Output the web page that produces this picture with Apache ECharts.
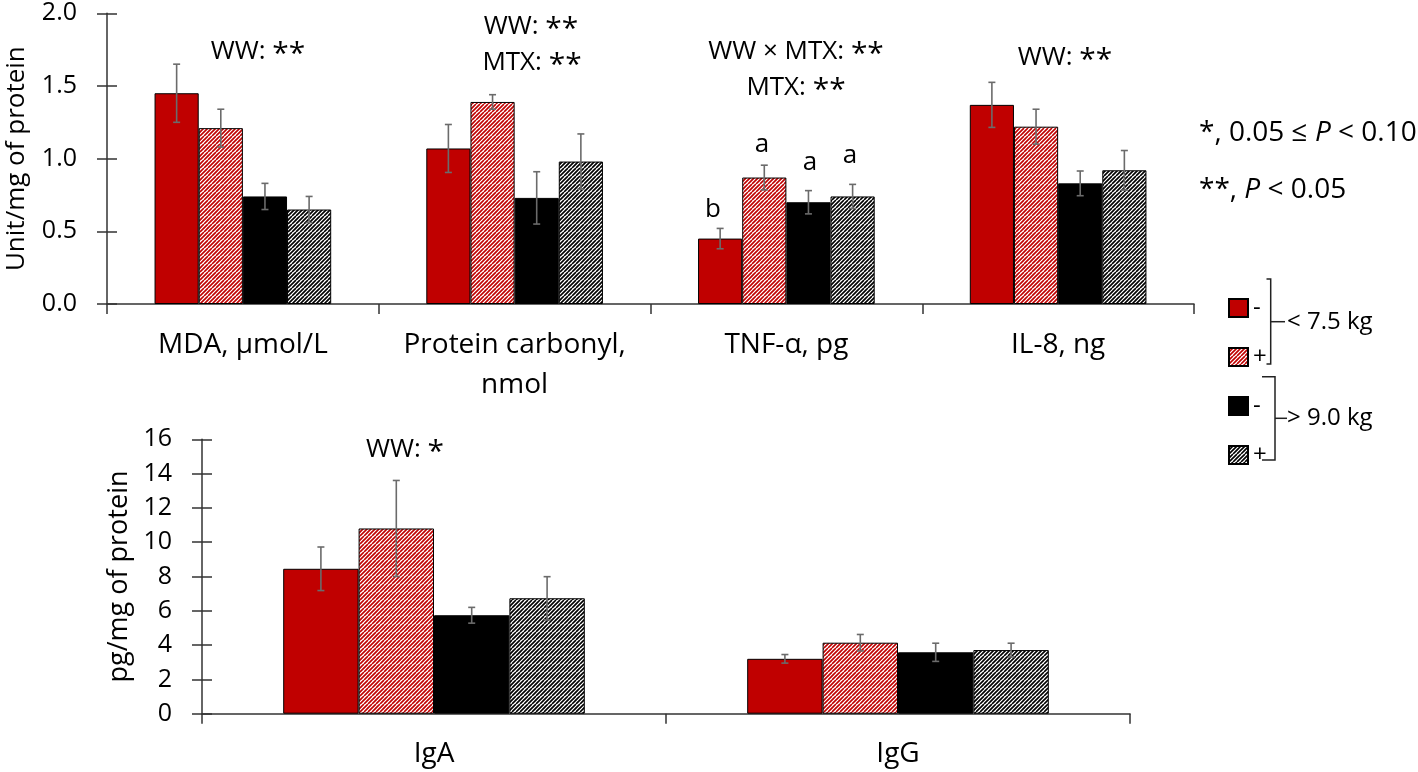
<!DOCTYPE html>
<html>
<head>
<meta charset="utf-8">
<script src="https://cdn.jsdelivr.net/npm/echarts@6/dist/echarts.min.js"></script>
<style>
html,body{margin:0;padding:0;background:#fff;}
#chart{width:1418px;height:772px;}
</style>
</head>
<body>
<div id="chart"></div>
<script>
// ---- data ----
const topCategories = ['MDA, µmol/L', 'Protein carbonyl,\nnmol', 'TNF-α, pg', 'IL-8, ng'];
const topLt75Minus = [1.45, 1.07, 0.45, 1.37];
const topLt75Plus  = [1.21, 1.39, 0.87, 1.22];
const topGt90Minus = [0.74, 0.73, 0.70, 0.83];
const topGt90Plus  = [0.65, 0.98, 0.74, 0.92];
const topLt75MinusSE = [0.20, 0.165, 0.07, 0.155];
const topLt75PlusSE  = [0.13, 0.05, 0.085, 0.12];
const topGt90MinusSE = [0.09, 0.18, 0.08, 0.085];
const topGt90PlusSE  = [0.09, 0.19, 0.083, 0.136];

const botCategories = ['IgA', 'IgG'];
const botLt75Minus = [8.45, 3.20];
const botLt75Plus  = [10.8, 4.14];
const botGt90Minus = [5.74, 3.58];
const botGt90Plus  = [6.73, 3.71];
const botLt75MinusSE = [1.27, 0.25];
const botLt75PlusSE  = [2.80, 0.48];
const botGt90MinusSE = [0.46, 0.53];
const botGt90PlusSE  = [1.26, 0.40];

const topTicks = [0, 0.5, 1.0, 1.5, 2.0];
const botTicks = [0, 2, 4, 6, 8, 10, 12, 14, 16];

const seriesNames = ['< 7.5 kg, -', '< 7.5 kg, +', '> 9.0 kg, -', '> 9.0 kg, +'];

// ---- styles ----
const RED = '#C00000';
const FONT = 'Open Sans';
function hatch(color) {
  const s = 8;
  const c = document.createElement('canvas');
  c.width = s; c.height = s;
  const ctx = c.getContext('2d');
  ctx.fillStyle = '#fff';
  ctx.fillRect(0, 0, s, s);
  ctx.strokeStyle = color;
  ctx.lineWidth = 1.6;
  ctx.beginPath();
  for (let k = -s; k <= 2 * s; k += 4) {
    ctx.moveTo(k, s);
    ctx.lineTo(k + s, 0);
  }
  ctx.stroke();
  return { image: c, repeat: 'repeat' };
}
const fills = [RED, hatch(RED), '#000', hatch('#000')];

const GAP = 0.35;
function errRender(idx) {
  return function (params, api) {
    const ci = api.value(0);
    const lo = api.value(1), hi = api.value(2);
    const band = api.size([1, 0])[0];
    const bw = band * (1 - GAP) / 4;
    const off = (idx - 1.5) * bw;
    const pHi = api.coord([ci, hi]);
    const pLo = api.coord([ci, lo]);
    const x = pHi[0] + off;
    const st = { stroke: '#6b6b6b', lineWidth: 1.6 };
    const cap = 3.5;
    return {
      type: 'group',
      children: [
        { type: 'line', shape: { x1: x, y1: pLo[1], x2: x, y2: pHi[1] }, style: st },
        { type: 'line', shape: { x1: x - cap, y1: pHi[1], x2: x + cap, y2: pHi[1] }, style: st },
        { type: 'line', shape: { x1: x - cap, y1: pLo[1], x2: x + cap, y2: pLo[1] }, style: st }
      ]
    };
  };
}

const topVals = [topLt75Minus, topLt75Plus, topGt90Minus, topGt90Plus];
const topSE = [topLt75MinusSE, topLt75PlusSE, topGt90MinusSE, topGt90PlusSE];
const botVals = [botLt75Minus, botLt75Plus, botGt90Minus, botGt90Plus];
const botSE = [botLt75MinusSE, botLt75PlusSE, botGt90MinusSE, botGt90PlusSE];

const series = [];
function addGroup(vals, ses, xi, yi) {
  vals.forEach((arr, i) => {
    series.push({
      type: 'bar', name: seriesNames[i], xAxisIndex: xi, yAxisIndex: yi,
      data: arr, barGap: '0%', barCategoryGap: (GAP * 100) + '%',
      itemStyle: { color: fills[i], borderColor: '#000', borderWidth: 1 },
      emphasis: { disabled: true }, z: 2
    });
  });
  vals.forEach((arr, i) => {
    series.push({
      type: 'custom', xAxisIndex: xi, yAxisIndex: yi, z: 5,
      renderItem: errRender(i),
      encode: { x: 0, y: [1, 2] },
      data: arr.map((v, k) => [k, v - ses[i][k], v + ses[i][k]]),
      silent: true
    });
  });
}
addGroup(topVals, topSE, 0, 0);
addGroup(botVals, botSE, 1, 2);

const axisCol = '#333';

function yAxes(gridIndex, max, interval, name, nameGap, nameSize, fmt) {
  return [
    {
      type: 'value', gridIndex, min: 0, max, interval, position: 'left',
      name, nameLocation: 'middle', nameGap, nameRotate: 90,
      nameTextStyle: { color: '#000', fontFamily: FONT, fontSize: nameSize },
      axisLine: { show: true, lineStyle: { color: axisCol, width: 1.5 } },
      axisTick: { show: true, length: 10, lineStyle: { color: axisCol, width: 1.5 } },
      axisLabel: { margin: 30, formatter: fmt, color: '#000', fontFamily: FONT, fontSize: 25 },
      splitLine: { show: false }
    },
    {
      type: 'value', gridIndex, min: 0, max, interval, position: 'left', offset: 0,
      axisLine: { show: false },
      axisTick: { show: true, inside: true, length: 10, lineStyle: { color: axisCol, width: 1.5 } },
      axisLabel: { show: false },
      splitLine: { show: false }
    }
  ];
}

function txt(text, x, y, size, align) {
  return {
    type: 'text', x, y, silent: true,
    style: {
      text, fill: '#000', font: (size || 26) + 'px "' + FONT + '"',
      textAlign: align || 'center', textVerticalAlign: 'middle',
      rich: {
        s: { fontSize: (size || 26) * 1.15, fontFamily: FONT, fill: '#000', padding: [4, 0, 0, 0] },
        i: { fontStyle: 'italic', fontFamily: FONT, fontSize: size || 26, fill: '#000' }
      }
    }
  };
}
const lineSt = { stroke: '#222', lineWidth: 1.5, fill: null };

const option = {
  backgroundColor: '#fff',
  animation: false,
  grid: [
    { left: 107, top: 13.3, width: 1087, height: 290.7, outerBoundsMode: 'none' },
    { left: 202, top: 439.3, width: 928, height: 274.4, outerBoundsMode: 'none' }
  ],
  legend: {
    orient: 'vertical', left: 1223, top: 291,
    itemWidth: 19, itemHeight: 18, itemGap: 25, icon: 'rect',
    data: seriesNames,
    formatter: n => n.slice(-1),
    textStyle: { color: '#000', fontFamily: FONT, fontSize: 24, lineHeight: 24, padding: [0, 0, 0, 0] },
    selectedMode: false
  },
  xAxis: [
    {
      type: 'category', gridIndex: 0, data: topCategories,
      axisLine: { lineStyle: { color: axisCol, width: 1.5 } },
      axisTick: { show: true, length: 10, lineStyle: { color: axisCol, width: 1.5 } },
      axisLabel: { interval: 0, margin: 21, lineHeight: 40, fontSize: 28, color: '#000', fontFamily: FONT }
    },
    {
      type: 'category', gridIndex: 1, data: botCategories,
      axisLine: { lineStyle: { color: axisCol, width: 1.5 } },
      axisTick: { show: true, length: 10, lineStyle: { color: axisCol, width: 1.5 } },
      axisLabel: { interval: 0, margin: 20, lineHeight: 40, fontSize: 28, color: '#000', fontFamily: FONT }
    }
  ],
  yAxis: [].concat(
    yAxes(0, topTicks[topTicks.length - 1], topTicks[1] - topTicks[0], 'Unit/mg of protein', 77, 26, v => v.toFixed(1)),
    yAxes(1, botTicks[botTicks.length - 1], botTicks[1] - botTicks[0], 'pg/mg of protein', 66, 27, v => String(v))
  ),
  series,
  graphic: [
    txt('WW: {s|**}', 258, 52),
    txt('WW: {s|**}', 531, 27),
    txt('MTX: {s|**}', 532, 63),
    txt('WW × MTX: {s|**}', 796, 52),
    txt('MTX: {s|**}', 796, 88),
    txt('b', 713, 210),
    txt('a', 762, 145),
    txt('a', 810, 163),
    txt('a', 850, 156),
    txt('WW: {s|**}', 1065, 58),
    txt('WW: {s|*}', 405, 450),
    txt('*, 0.05 ≤ {i|P} < 0.10', 1199, 133, 28, 'left'),
    txt('**, {i|P} < 0.05', 1199, 190, 28, 'left'),
    { type: 'polyline', silent: true, shape: { points: [[1266.5, 279], [1270.7, 279], [1270.7, 364], [1266.5, 364]] }, style: lineSt },
    { type: 'line', silent: true, shape: { x1: 1270.7, y1: 321.7, x2: 1285, y2: 321.7 }, style: lineSt },
    txt('< 7.5 kg', 1287, 322, 24, 'left'),
    { type: 'polyline', silent: true, shape: { points: [[1262, 376.7], [1275, 376.7], [1275, 460], [1262, 460]] }, style: lineSt },
    { type: 'line', silent: true, shape: { x1: 1275, y1: 418.3, x2: 1287, y2: 418.3 }, style: lineSt },
    txt('> 9.0 kg', 1287, 418, 24, 'left')
  ]
};

const chart = echarts.init(document.getElementById('chart'), null, { renderer: 'canvas' });
chart.setOption(option);
</script>
</body>
</html>
